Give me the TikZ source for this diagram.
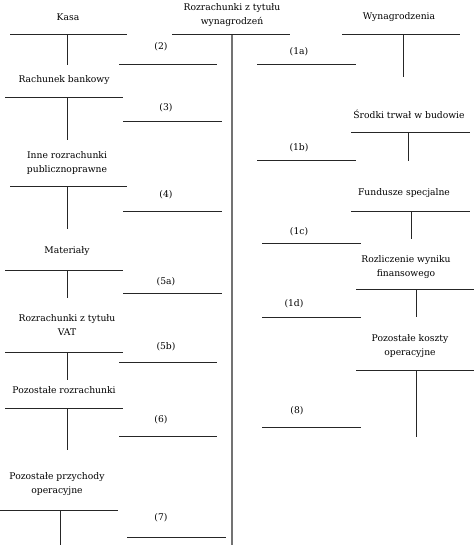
\documentclass[tikz,border=0pt]{standalone}
\usepackage{fontspec}
\setmainfont{DejaVu Serif}
\usetikzlibrary{positioning}

\begin{document}
\begin{tikzpicture}[
    x=1pt, y=-1pt,
    acc/.style={align=center, font=\fontsize{9.2}{13.5}\selectfont, inner sep=0pt},
    num/.style={font=\fontsize{9.2}{11}\selectfont, inner sep=0pt},
    bar/.style={line width=1pt, draw=black!85},
    axis/.style={line width=1.8pt, draw=black!55}
]
\useasboundingbox (0,0) rectangle (474,545);

% central account
\node[acc] (wyn) at (232,15) {Rozrachunki z tytułu\\wynagrodzeń};
\draw[bar] (172,35) -- (290,35);
\draw[axis] (232,35) -- (232,545);

% left accounts
\node[acc] (kasa) at (68,17) {Kasa};
\draw[bar] (10,35) -- (127,35);
\draw[bar] (67,35) -- (67,65);

\node[acc] (bank) at (64,80) {Rachunek bankowy};
\draw[bar] (5,98) -- (123,98);
\draw[bar] (67,98) -- (67,140);

\node[acc] (publ) at (67,163) {Inne rozrachunki\\publicznoprawne};
\draw[bar] (10,187) -- (127,187);
\draw[bar] (67,187) -- (67,229);

\node[acc] (mat) at (67,251) {Materiały};
\draw[bar] (5,270) -- (123,270);
\draw[bar] (67,270) -- (67,298);

\node[acc] (vat) at (67,325) {Rozrachunki z tytułu\\VAT};
\draw[bar] (5,352) -- (123,352);
\draw[bar] (67,352) -- (67,380);

\node[acc] (rozr) at (64,390) {Pozostałe rozrachunki};
\draw[bar] (5,408) -- (123,408);
\draw[bar] (67,408) -- (67,450);

\node[acc] (przych) at (57,484) {Pozostałe przychody\\operacyjne};
\draw[bar] (0,510) -- (118,510);
\draw[bar] (60,510) -- (60,545);

% left entries
\node[num] (e2) at (161,47) {(2)};
\draw[bar] (119,65) -- (217,65);
\node[num] (e3) at (166,108) {(3)};
\draw[bar] (123,122) -- (222,122);
\node[num] (e4) at (166,195) {(4)};
\draw[bar] (123,211) -- (222,211);
\node[num] (e5a) at (166,282) {(5a)};
\draw[bar] (123,293) -- (222,293);
\node[num] (e5b) at (166,347) {(5b)};
\draw[bar] (119,362) -- (217,362);
\node[num] (e6) at (161,420) {(6)};
\draw[bar] (119,436) -- (217,436);
\node[num] (e7) at (161,518) {(7)};
\draw[bar] (127,537) -- (226,537);

% right accounts
\node[acc] (wynagr) at (399,17) {Wynagrodzenia};
\draw[bar] (342,35) -- (460,35);
\draw[bar] (403,35) -- (403,77);

\node[acc] (srodki) at (409,114) {Środki trwał w budowie};
\draw[bar] (351,133) -- (470,133);
\draw[bar] (408,133) -- (408,161);

\node[acc] (fund) at (404,193) {Fundusze specjalne};
\draw[bar] (351,211) -- (470,211);
\draw[bar] (411,211) -- (411,239);

\node[acc] (wynik) at (406,267) {Rozliczenie wyniku\\finansowego};
\draw[bar] (356,289) -- (474,289);
\draw[bar] (416,289) -- (416,317);

\node[acc] (koszty) at (410,346) {Pozostałe koszty\\operacyjne};
\draw[bar] (356,370) -- (474,370);
\draw[bar] (416,370) -- (416,437);

% right entries
\node[num] (e1a) at (299,52) {(1a)};
\draw[bar] (257,65) -- (356,65);
\node[num] (e1b) at (299,148) {(1b)};
\draw[bar] (257,161) -- (356,161);
\node[num] (e1c) at (299,232) {(1c)};
\draw[bar] (262,243) -- (361,243);
\node[num] (e1d) at (294,304) {(1d)};
\draw[bar] (262,317) -- (361,317);
\node[num] (e8) at (297,411) {(8)};
\draw[bar] (262,427) -- (361,427);
\end{tikzpicture}
\end{document}
